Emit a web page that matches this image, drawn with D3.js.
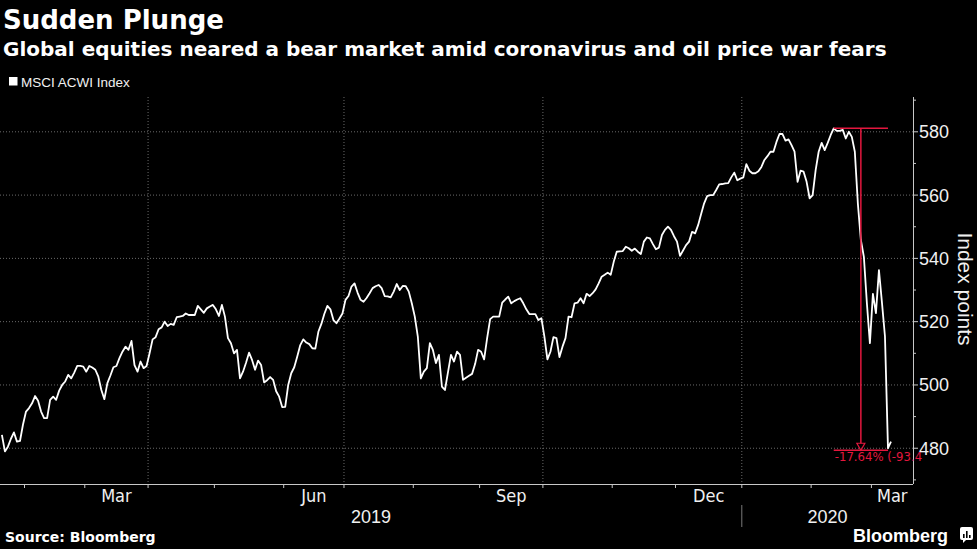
<!DOCTYPE html>
<html><head><meta charset="utf-8">
<script src="https://cdn.jsdelivr.net/npm/d3@7"></script>
<style>
html,body{margin:0;padding:0;background:#000;}
svg{display:block;background:#000;}
</style></head><body>
<svg id="chart" width="977" height="549"></svg>
<script>
// ---------------- data ----------------
const title = "Sudden Plunge";
const subtitle = "Global equities neared a bear market amid coronavirus and oil price war fears";
const seriesName = "MSCI ACWI Index";
const axisTitle = "Index points";
const sourceText = "Source: Bloomberg";
const logoText = "Bloomberg";
const startDate = "2019-01-22";           // first trading day (weekday) shown
const values = [
 484.2,479.0,480.5,483.0,485.0,482.1,482.3,487.5,
 491.6,492.7,494.2,496.5,495.0,491.6,489.5,489.5,495.3,496.3,
 495.3,498.2,500.0,501.1,503.2,502.1,503.9,506.0,506.0,505.8,
 504.2,506.0,505.5,504.8,502.6,498.4,495.5,500.6,503.0,505.6,
 506.0,508.5,510.5,512.1,511.1,513.9,506.3,504.2,507.4,505.3,
 506.0,510.0,514.4,515.1,517.6,518.2,520.0,518.6,519.3,519.0,
 521.4,521.6,521.8,522.6,522.1,522.1,522.1,525.0,523.9,522.8,
 524.2,524.8,525.3,523.9,521.8,525.3,521.6,514.8,513.2,510.0,
 511.1,502.1,504.2,507.0,510.2,507.9,504.8,507.7,506.3,500.8,
 501.5,502.5,501.6,498.0,496.3,493.0,493.1,500.0,503.7,505.6,
 509.0,512.6,514.4,513.4,512.9,511.6,511.5,516.8,519.3,522.5,
 525.0,523.9,520.5,519.5,521.0,522.6,526.9,528.1,531.1,532.1,
 529.2,526.9,526.3,527.5,529.0,530.6,531.2,531.6,530.6,528.1,
 528.0,527.7,529.5,531.9,530.0,531.3,531.2,529.5,525.8,521.6,
 515.3,502.1,504.2,505.3,513.2,511.1,506.9,509.5,499.5,498.4,
 504.0,509.5,507.4,510.5,509.5,501.6,502.3,502.9,503.5,506.6,
 511.1,510.5,508.1,514.8,520.8,521.6,521.6,521.6,526.0,527.0,
 527.9,525.8,526.5,527.0,527.4,525.8,523.9,522.4,522.4,522.4,
 520.5,521.1,515.3,508.1,510.5,515.1,514.8,508.8,512.1,514.8,
 521.6,521.4,525.8,526.0,527.4,525.8,528.8,528.1,529.0,530.2,
 532.1,534.2,534.8,535.5,534.8,538.9,542.1,542.2,542.3,543.7,
 543.2,542.4,543.1,542.1,541.4,545.3,546.6,546.3,544.5,542.9,
 543.4,547.4,549.0,550.0,549.0,547.0,545.3,540.8,542.5,544.2,
 545.3,548.4,547.9,550.5,554.0,557.4,559.7,560.0,560.0,561.6,
 563.4,563.5,563.7,563.8,565.6,567.1,564.7,565.2,565.6,569.8,
 567.7,566.9,566.9,567.5,568.9,571.1,572.3,573.7,573.7,576.8,
 579.3,579.3,577.2,577.6,575.8,573.7,564.2,567.7,567.4,564.2,
 559.0,560.0,567.9,573.7,576.5,574.2,576.5,579.0,581.1,580.3,
 580.3,580.6,577.9,580.0,578.4,573.7,557.4,545.8,540.5,525.8,
 513.2,528.8,522.7,536.3,526.0,515.3,480.0,482.1
];
const yTicks = [480, 500, 520, 540, 560, 580];
const yMinorTicks = [470, 490, 510, 530, 550, 570, 590];
const monthNames = ["Jan","Feb","Mar","Apr","May","Jun","Jul","Aug","Sep","Oct","Nov","Dec"];
const labelMonths = [2, 5, 8, 11];   // Mar, Jun, Sep, Dec
const gridMonths = [0, 3, 6, 9];     // quarter boundaries
const annotationText = "-17.64% (-93.4";

// ---------------- layout ----------------
const W = 977, H = 549;
const plot = {left: 0, right: 913, top: 97, bottom: 484};
const red = "#e3173e";
const narrowFont = "'Liberation Sans Narrow','Arial Narrow','DejaVu Sans Condensed',sans-serif";
const digitFont = "'Liberation Sans',Arial,sans-serif";
const boldFont = "'DejaVu Sans',Verdana,sans-serif";

// weekday dates
const dates = [];
{
  let d = new Date(startDate + "T12:00:00");
  while (dates.length < values.length) {
    const wd = d.getDay();
    if (wd !== 0 && wd !== 6) dates.push(new Date(d));
    d.setDate(d.getDate() + 1);
  }
}
const data = values.map((v, i) => ({i, date: dates[i], v}));

const svg = d3.select("#chart");
const x = d3.scaleLinear().domain([-0.63, 302.3]).range([plot.left, plot.right]);
const y = d3.scaleLinear().domain([468.7, 591]).range([plot.bottom, plot.top]);

// month boundaries
const bounds = [];
for (let i = 1; i < data.length; i++) {
  if (data[i].date.getMonth() !== data[i-1].date.getMonth()) {
    bounds.push({pos: i - 0.5, month: data[i].date.getMonth(), year: data[i].date.getFullYear()});
  }
}

// gridlines
const g = svg.append("g");
g.selectAll(".hgrid").data(yTicks).join("line")
  .attr("x1", plot.left).attr("x2", plot.right)
  .attr("y1", d => y(d)).attr("y2", d => y(d))
  .attr("stroke", "#6a6a6a").attr("stroke-width", 1).attr("stroke-dasharray", "1,2");
g.selectAll(".vgrid").data(bounds.filter(b => gridMonths.includes(b.month))).join("line")
  .attr("x1", d => x(d.pos)).attr("x2", d => x(d.pos))
  .attr("y1", plot.top).attr("y2", plot.bottom)
  .attr("stroke", "#6a6a6a").attr("stroke-width", 1).attr("stroke-dasharray", "1,2");

// x axis
g.append("line").attr("x1", plot.left).attr("x2", plot.right)
  .attr("y1", plot.bottom + 0.5).attr("y2", plot.bottom + 0.5)
  .attr("stroke", "#c8c8c8").attr("stroke-width", 1);
g.selectAll(".xtick").data(bounds).join("line")
  .attr("x1", d => x(d.pos)).attr("x2", d => x(d.pos))
  .attr("y1", plot.bottom).attr("y2", plot.bottom + 4)
  .attr("stroke", "#c8c8c8");
bounds.forEach((b, k) => {
  if (!labelMonths.includes(b.month)) return;
  const x0 = x(b.pos);
  const x1 = k + 1 < bounds.length ? x(bounds[k+1].pos) : plot.right;
  g.append("text").attr("x", (x0 + x1) / 2).attr("y", 502)
    .attr("text-anchor", "middle").attr("fill", "#f0f0f0")
    .attr("font-family", narrowFont).attr("font-size", 18)
    .text(monthNames[b.month]);
});
// years
const yearBreak = bounds.find(b => b.month === 0);
const years = [
  {label: String(data[0].date.getFullYear()), x0: plot.left, x1: x(yearBreak.pos)},
  {label: String(yearBreak.year), x0: x(yearBreak.pos), x1: plot.right}
];
g.selectAll(".year").data(years).join("text")
  .attr("x", d => (d.x0 + d.x1) / 2).attr("y", 523)
  .attr("text-anchor", "middle").attr("fill", "#f0f0f0")
  .attr("font-family", digitFont).attr("font-size", 18)
  .text(d => d.label);
g.append("line").attr("x1", x(yearBreak.pos)).attr("x2", x(yearBreak.pos))
  .attr("y1", 505).attr("y2", 527).attr("stroke", "#7a7a7a");

// right y axis
g.append("line").attr("x1", plot.right + 0.5).attr("x2", plot.right + 0.5)
  .attr("y1", plot.top).attr("y2", plot.bottom).attr("stroke", "#c8c8c8");
g.selectAll(".ytick").data(yTicks).join("line")
  .attr("x1", plot.right).attr("x2", plot.right + 5)
  .attr("y1", d => y(d)).attr("y2", d => y(d)).attr("stroke", "#c8c8c8");
g.selectAll(".yminor").data(yMinorTicks).join("line")
  .attr("x1", plot.right).attr("x2", plot.right + 3)
  .attr("y1", d => y(d)).attr("y2", d => y(d)).attr("stroke", "#c8c8c8");
g.selectAll(".ylab").data(yTicks).join("text")
  .attr("x", plot.right + 6).attr("y", d => y(d) + 6.5)
  .attr("fill", "#f0f0f0").attr("font-family", digitFont).attr("font-size", 18)
  .text(d => d);
g.append("text").attr("transform", `translate(958,289) rotate(90)`)
  .attr("text-anchor", "middle").attr("fill", "#f0f0f0")
  .attr("font-family", digitFont).attr("font-size", 21)
  .text(axisTitle);

// series line
g.append("path").datum(data)
  .attr("d", d3.line().x(d => x(d.i)).y(d => y(d.v)))
  .attr("fill", "none").attr("stroke", "#ffffff").attr("stroke-width", 1.8)
  .attr("stroke-linejoin", "round");

// annotation: peak to trough
const peak = data.reduce((a, b) => b.v > a.v ? b : a);
const trough = data.filter(d => d.i > peak.i).reduce((a, b) => b.v < a.v ? b : a);
const ax0 = x(peak.i), ax1 = x(trough.i), amid = (ax0 + ax1) / 2;
const ayTop = y(peak.v), ayBot = y(trough.v) + 2;
const ann = g.append("g").attr("stroke", red).attr("fill", "none").attr("stroke-width", 1.5);
ann.append("line").attr("x1", ax0).attr("x2", ax1).attr("y1", ayTop).attr("y2", ayTop);
ann.append("line").attr("x1", ax0).attr("x2", ax1).attr("y1", ayBot).attr("y2", ayBot);
ann.append("line").attr("x1", amid).attr("x2", amid).attr("y1", ayTop).attr("y2", ayBot - 7);
ann.append("path").attr("stroke-width", 1.2)
  .attr("d", `M${amid-4},${ayBot-7}L${amid+4},${ayBot-7}L${amid},${ayBot}Z`);
g.append("text").attr("x", ax0 + 1).attr("y", ayBot + 11)
  .attr("fill", red).attr("font-family", narrowFont).attr("font-size", 13)
  .text(annotationText);

// titles & legend
svg.append("text").attr("x", 3).attr("y", 29).attr("fill", "#fff")
  .attr("font-family", boldFont).attr("font-weight", "bold").attr("font-size", 26)
  .text(title);
svg.append("text").attr("x", 3).attr("y", 56).attr("fill", "#fff")
  .attr("font-family", boldFont).attr("font-weight", "bold").attr("font-size", 20)
  .text(subtitle);
svg.append("rect").attr("x", 9).attr("y", 77).attr("width", 8.5).attr("height", 8.5).attr("fill", "#fff");
svg.append("text").attr("x", 21).attr("y", 87).attr("fill", "#f0f0f0")
  .attr("font-family", digitFont).attr("font-size", 13.5)
  .text(seriesName);

// footer
svg.append("text").attr("x", 5).attr("y", 542).attr("fill", "#fff")
  .attr("font-family", boldFont).attr("font-weight", "bold").attr("font-size", 14)
  .text(sourceText);
svg.append("text").attr("x", 853).attr("y", 542).attr("fill", "#fff")
  .attr("font-family", digitFont).attr("font-weight", "bold").attr("font-size", 18)
  .text(logoText);
const logo = svg.append("g").attr("transform", "translate(960,527)");
logo.append("rect").attr("width", 13).attr("height", 13).attr("rx", 2).attr("fill", "#fff");
logo.append("path").attr("d", "M3,13L3,16L6,13Z").attr("fill", "#fff");
[[3,7],[6,4],[9,8]].forEach(([bx, by]) => {
  logo.append("rect").attr("x", bx).attr("y", by).attr("width", 1.6).attr("height", 11 - by).attr("fill", "#000");
});
</script>
</body></html>
